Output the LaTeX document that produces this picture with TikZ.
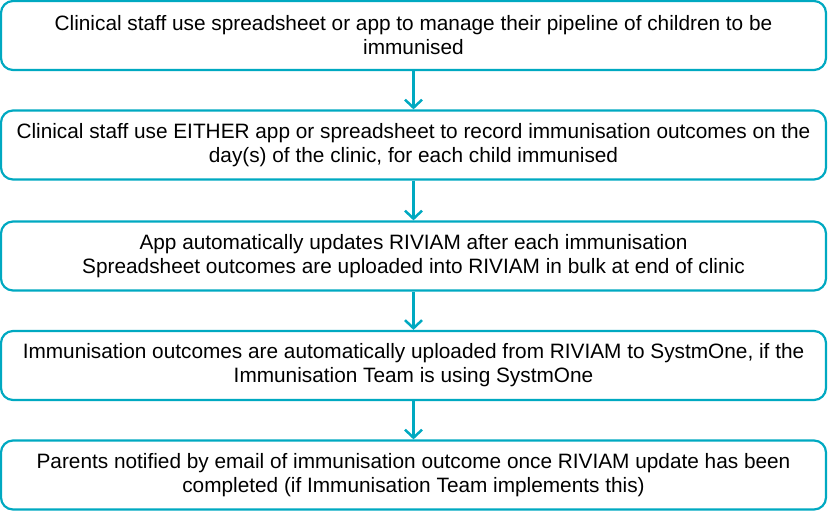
\documentclass[tikz,border=0pt]{standalone}
\usepackage{fontspec}
\setmainfont{Liberation Sans}
\usepackage{tikz}
\usetikzlibrary{arrows.meta,positioning}
\definecolor{nhsteal}{HTML}{00A9C1}
\tikzset{
  stepbox/.style={rectangle, rounded corners=12pt, draw=nhsteal, line width=2.2pt, fill=white,
                  align=center, font=\fontsize{20.8}{24}\selectfont, minimum width=825pt,
                  minimum height=69pt, inner sep=0pt},
  arr/.style={-{Straight Barb[length=8pt,width=17pt,line width=2.5pt]}, line width=2.5pt, draw=nhsteal},
}
\begin{document}
\begin{tikzpicture}[x=1pt,y=-1pt]
        \useasboundingbox (0,0) rectangle (830,512);
        \node[stepbox] (pipeline) at (413.5,35.5)
          {Clinical staff use spreadsheet or app to manage their pipeline of children to be\\immunised};
        \node[stepbox] (record) at (413.5,145)
          {Clinical staff use EITHER app or spreadsheet to record immunisation outcomes on the\\day(s) of the clinic, for each child immunised};
        \node[stepbox] (update) at (413.5,256)
          {App automatically updates RIVIAM after each immunisation\\Spreadsheet outcomes are uploaded into RIVIAM in bulk at end of clinic};
        \node[stepbox] (systmone) at (413.5,365.5)
          {Immunisation outcomes are automatically uploaded from RIVIAM to SystmOne, if the\\Immunisation Team is using SystmOne};
        \node[stepbox] (notify) at (413.5,475)
          {Parents notified by email of immunisation outcome once RIVIAM update has been\\completed (if Immunisation Team implements this)};
        \draw[arr] (pipeline) -- (record);
        \draw[arr] (record) -- (update);
        \draw[arr] (update) -- (systmone);
        \draw[arr] (systmone) -- (notify);
      \end{tikzpicture}
\end{document}
